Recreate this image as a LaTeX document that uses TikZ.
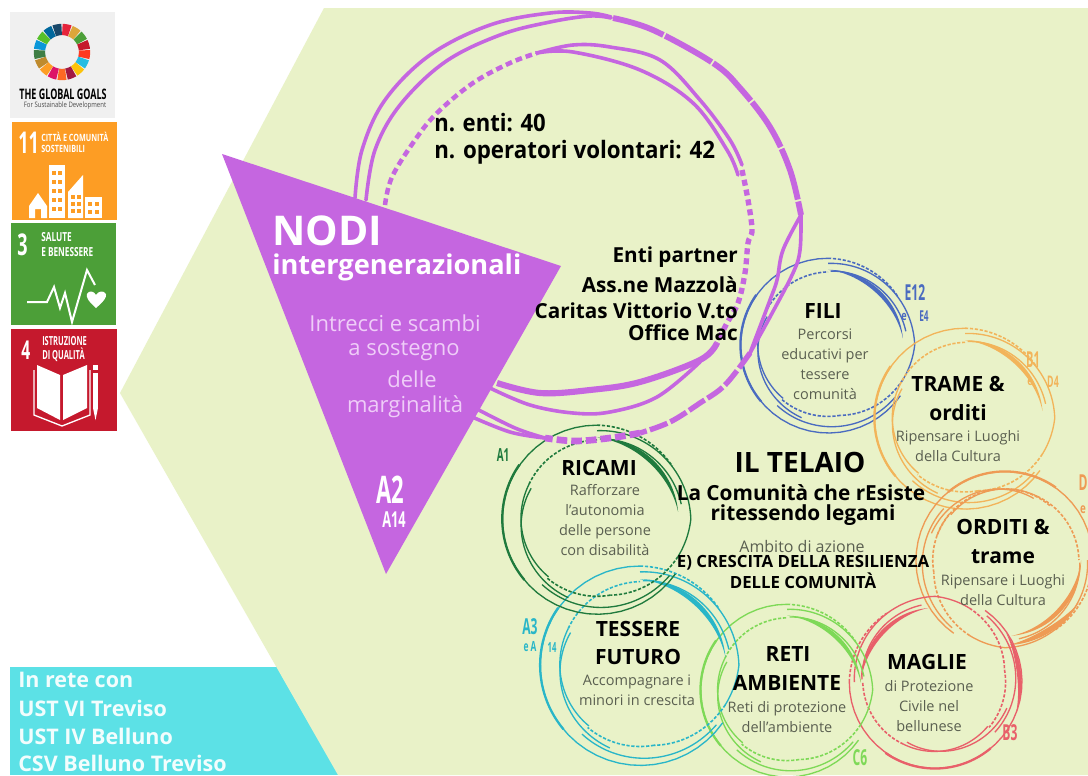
\documentclass[tikz,border=0pt]{standalone}
\usepackage{fontspec}
\usepackage{graphicx}
\setmainfont{Open Sans}
\newcommand\fpx[2]{\fontsize{\fpeval{#1*0.75}}{\fpeval{#2*0.75}}\selectfont}
\newcommand\cond[2][.6]{\scalebox{#1}[1]{#2}}
\definecolor{hexg}{HTML}{E9F2C8}
\definecolor{purp}{HTML}{C566E0}
\definecolor{pinkt}{HTML}{EFCDF8}
\definecolor{cyanb}{HTML}{5CE1E6}
\definecolor{desc}{HTML}{5A5F50}
\definecolor{cblue}{HTML}{4A6BC0}
\definecolor{cyel}{HTML}{F2B45A}
\definecolor{corg}{HTML}{EE9B55}
\definecolor{cred}{HTML}{E8606A}
\definecolor{clgr}{HTML}{7ED957}
\definecolor{ctea}{HTML}{29B6C8}
\definecolor{cdgr}{HTML}{1F7A3D}
\definecolor{sdgo}{HTML}{FD9D24}
\definecolor{sdgg}{HTML}{4C9F38}
\definecolor{sdgr}{HTML}{C5192D}
\tikzset{
  title/.style={font=\fpx{21}{28}\bfseries,text=black,align=center,inner sep=0pt},
  dtext/.style={font=\fpx{14.5}{20},text=desc,align=center,inner sep=0pt},
  pdesc/.style={font=\fpx{22}{26},text=pinkt,inner sep=0pt},
  tag/.style={font=\fpx{22}{22}\bfseries,inner sep=0pt},
  tile/.style={font=\fpx{12.5}{13}\bfseries,text=white,inner sep=0pt,anchor=west,align=left},
  rthin/.style={draw=rc,line width=1pt},
  rthick/.style={draw=rc,line width=1.7pt},
  rdash/.style={draw=rc,line width=1.2pt,dash pattern=on 2.4pt off 1.3pt},
  pl/.style={draw=purp,line width=2.7pt,line cap=round},
  pth/.style={draw=purp,line width=4.6pt},
  pdot/.style={draw=purp,line width=3.4pt,dash pattern=on 5pt off 3pt},
}
% ring helpers (angles clockwise on screen, radii relative)
\def\rseg#1#2#3#4{plot[domain=#1:#2,samples=36] ({\CX+\RR*(#3+(#4-(#3))*(\x-(#1))/(#2-(#1)))*cos(\x+\ROT)},{\CY+\RR*(#3+(#4-(#3))*(\x-(#1))/(#2-(#1)))*sin(\x+\ROT)})}
\newcommand\cres[4]{\fill[rc] plot[domain=#1:#2,samples=30] ({\CX+\RR*(#3)*cos(\x+\ROT)},{\CY+\RR*(#3)*sin(\x+\ROT)}) -- plot[domain=#2:#1,samples=30] ({\CX+\RR*(#3-(#4)*sin(180*(\x-(#1))/(#2-(#1))))*cos(\x+\ROT)},{\CY+\RR*(#3-(#4)*sin(180*(\x-(#1))/(#2-(#1))))*sin(\x+\ROT)}) -- cycle;}
\newcommand\setring[5]{\def\CX{#1}\def\CY{#2}\def\RR{#3}\def\ROT{#4}\colorlet{rc}{#5}}
\newcommand\skring[5]{\setring{#1}{#2}{#3}{#4}{#5}
  \draw[rthin] \rseg{35}{270}{1.04}{1.02};
  \draw[rthick] \rseg{140}{215}{1.03}{1.03};
  \draw[rdash] \rseg{270}{325}{1.02}{1.0};
  \draw[rthin] \rseg{270}{360}{.96}{1.02};
  \draw[rthin] \rseg{360}{385}{1.02}{.97};
  \draw[rdash] \rseg{385}{440}{.97}{.84};
  \draw[rdash] \rseg{440}{490}{.84}{.84};
  \draw[rthin] \rseg{130}{207}{.82}{.83};
  \draw[rthin] \rseg{110}{205}{.91}{.79};
  \draw[rthin] \rseg{38}{130}{1.0}{.93};
  \draw[rdash] \rseg{207}{270}{.83}{.86};
  \draw[rthin] \rseg{272}{350}{.87}{.93};
  \cres{270}{355}{.885}{.05}
}
\begin{document}
\begin{tikzpicture}[x=.75pt,y=-.75pt]
\useasboundingbox (0,0) rectangle (1088,775);
\fill[white] (0,0) rectangle (1088,775);
% bottom-left band
\fill[cyanb] (10,667) rectangle (345,775);
% background hexagon
\fill[hexg] (120,393) -- (324,8) -- (1088,8) -- (1088,775) -- (338,775) -- cycle;
% ---------- SDG column
\fill[black!6] (10,12) rectangle (115,118);
\foreach \c [count=\i from 0] in {E5243B,DDA63A,4C9F38,C5192D,FF3A21,26BDE2,FCC30B,A21942,FD6925,DD1367,FD9D24,BF8B2E,3F7E44,0A97D9,56C02B,00689D,19486A}{
  \definecolor{tmpc}{HTML}{\c}
  \draw[tmpc,line width=8.5pt] plot[domain=-90+\i*21.18+0.9:-90+\i*21.18+20.2,samples=6] ({62+22.5*cos(\x)},{52+22.5*sin(\x)});
}
\node[inner sep=0pt,font=\fpx{14.5}{14}\bfseries] (gg) at (63,94) {\cond[.62]{THE GLOBAL GOALS}};
\node[inner sep=0pt,font=\fpx{7.5}{8},text=black!70] (gs) at (65,106) {\cond[.8]{For Sustainable Development}};
\fill[sdgo] (12,122) rectangle (117,220);
\fill[sdgg] (11,223) rectangle (116,325);
\fill[sdgr] (11,329) rectangle (117,431);
\node[tile,font=\fpx{30}{30}\bfseries] (n11) at (18,143) {\cond{11}};
\node[tile,font=\fpx{10}{12}\bfseries] (n11a) at (41,137) {\cond[.72]{CITTÀ E COMUNITÀ}};
\node[tile,font=\fpx{10}{12}\bfseries] (n11b) at (41,149) {\cond[.72]{SOSTENIBILI}};
\node[tile,font=\fpx{30}{30}\bfseries] (n3) at (17,245) {\cond{3}};
\node[tile] (n3a) at (41,237) {\cond[.66]{SALUTE}};
\node[tile] (n3b) at (41,252) {\cond[.66]{E BENESSERE}};
\node[tile,font=\fpx{26}{26}\bfseries] (n4) at (21,350) {\cond{4}};
\node[tile] (n4a) at (42,341) {\cond{ISTRUZIONE}};
\node[tile] (n4b) at (42,355) {\cond{DI QUALITÀ}};
% city icon
\fill[white] (29,218) -- (29,206) -- (38,193) -- (47,206) -- (47,218) -- (41,218) -- (41,209) -- (35,209) -- (35,218) -- cycle;
\fill[white] (49,165) rectangle (65,218);
\fill[white] (68,218) -- (68,192) -- (83,175) -- (83,218) -- cycle;
\fill[white] (85,197) rectangle (102,218);
\foreach \yy in {171,180,189,198,207}{\fill[sdgo] (52,\yy) rectangle (56,\yy+4);\fill[sdgo] (58,\yy) rectangle (62,\yy+4);}
\foreach \yy in {195,202,209}{\fill[sdgo] (71,\yy) rectangle (75,\yy+4);\fill[sdgo] (77,\yy) rectangle (81,\yy+4);}
\foreach \yy in {202,210}{\fill[sdgo] (88,\yy) rectangle (92,\yy+4);\fill[sdgo] (95,\yy) rectangle (99,\yy+4);}
% pulse icon
\draw[white,line width=1.5pt] (27,302) -- (47,302) -- (54,287) -- (60,308) -- (65,293) -- (72,322) -- (87,270) -- (95,285);
\fill[white] (96,308) .. controls (88,301) and (86,297) .. (87,294) .. controls (89,290) and (94,291) .. (96,295) .. controls (98,291) and (104,290) .. (106,294) .. controls (107,297) and (104,301) .. (96,308) -- cycle;
% book icon
\fill[white] (37,365) -- (60,375) -- (60,420) -- (37,408) -- cycle;
\fill[white] (63,375) -- (87,365) -- (87,408) -- (63,420) -- cycle;
\draw[white,line width=1pt] (34,370) -- (34,415) -- (62,426) -- (90,415) -- (90,370);
\fill[white] (93,373) rectangle (98,408);
\fill[white] (93,408) -- (98,408) -- (95.5,420) -- cycle;
\fill[white] (93,365) rectangle (98,370);
% ---------- sketched rings
\skring{828}{345}{85}{0}{cblue}
\skring{965}{418}{88}{0}{cyel}
\skring{1005}{560}{86}{90}{corg}
\cres{300}{358}{.99}{.06}
\draw[rdash] \rseg{110}{220}{.84}{.82};
\skring{935}{682}{84}{-90}{cred}
\cres{55}{110}{1.03}{.05}
\skring{787}{690}{84}{0}{clgr}
\skring{640}{665}{97}{0}{ctea}
\skring{597}{519}{92}{0}{cdgr}
% ---------- large purple ring
\draw[pl] plot[smooth,tension=.6] coordinates {(355,198) (362,150) (385,100) (430,55) (490,25) (550,13) (590,13) (611,17)};
\draw[pl] plot[smooth,tension=.6] coordinates {(366,200) (375,150) (400,105) (445,62) (500,35) (550,22) (590,16) (611,18)};
\draw[draw=purp,line width=4.4pt,dash pattern=on 40pt off 1.5pt] plot[smooth,tension=.6] coordinates {(613,18) (653,30) (713,63) (740,88) (770,127) (790,170) (801,215)};
\draw[pl] plot[smooth,tension=.6] coordinates {(801,215) (800,250) (793,273) (770,317) (750,353)};
\draw[pl] plot[smooth,tension=.6] coordinates {(801,215) (783,250) (777,280) (770,300) (750,353)};
\draw[draw=purp,line width=4pt,dash pattern=on 14pt off 2.5pt] plot[smooth,tension=.6] coordinates {(750,353) (725,385) (700,403) (670,422) (640,433)};
\draw[draw=purp,line width=5pt,dash pattern=on 8pt off 3pt] plot[smooth,tension=.6] coordinates {(640,433) (610,438) (575,441) (545,438)};
\draw[pl] plot[smooth,tension=.6] coordinates {(545,438) (515,428) (475,408)};
\draw[pl] plot[smooth,tension=.6] coordinates {(545,438) (510,432) (470,416)};
\draw[pdot] plot[smooth,tension=.6] coordinates {(385,205) (392,177) (415,140) (437,113) (473,83) (510,63) (537,53)};
\draw[pl] plot[smooth,tension=.6] coordinates {(537,53) (573,45) (610,47) (660,60) (700,100) (730,140) (742,165)};
\draw[pl] plot[smooth,tension=.6] coordinates {(537,53) (573,52) (640,70) (693,103) (727,150) (738,175)};
\draw[draw=purp,line width=4pt,dash pattern=on 4.5pt off 3pt] plot[smooth,tension=.6] coordinates {(742,170) (748,200) (752,230) (748,243) (745,273) (738,303) (727,323) (717,343)};
\draw[pth] plot[smooth,tension=.6] coordinates {(717,343) (700,360) (640,382) (590,390) (540,393) (497,383)};
\draw[pl] plot[smooth,tension=.6] coordinates {(700,362) (657,397) (610,412) (573,413) (530,405) (490,388)};
% ---------- triangle
\fill[purp] (222,154) -- (561,266) -- (386,574) -- cycle;
% ---------- triangle text
\node[inner sep=0pt,anchor=west,font=\fpx{41}{41}\bfseries,text=white] (nodi) at (272,231) {NODI};
\node[inner sep=0pt,anchor=west,font=\fpx{27.2}{28}\bfseries,text=white] (inter) at (272,267) {intergenerazionali};
\node[pdesc] (p1) at (395,323) {Intrecci e scambi};
\node[pdesc] (p2) at (404,351) {a sostegno};
\node[pdesc] (p3) at (412,379) {delle};
\node[pdesc] (p4) at (405,407) {marginalità};
\node[tag,font=\fpx{38}{38}\bfseries,text=white] (a2) at (390,490) {\cond[.58]{A2}};
\node[tag,font=\fpx{22}{22}\bfseries,text=white] (a14) at (394,520) {\cond[.58]{A14}};
% ---------- top texts
\node[inner sep=0pt,anchor=west,font=\fpx{24}{24}\bfseries] (ne) at (434,123) {\cond[.92]{n. enti: 40}};
\node[inner sep=0pt,anchor=west,font=\fpx{24}{24}\bfseries] (no) at (434,152) {\cond[.93]{n. operatori volontari: 42}};
\node[inner sep=0pt,anchor=east,font=\fpx{20.7}{22}\bfseries] (ep) at (738,257) {Enti partner};
\node[inner sep=0pt,anchor=east,font=\fpx{20.7}{22}\bfseries] (am) at (738,285) {Ass.ne Mazzolà};
\node[inner sep=0pt,anchor=east,font=\fpx{20.7}{22}\bfseries] (cv) at (738,311) {Caritas Vittorio V.to};
\node[inner sep=0pt,anchor=east,font=\fpx{20.7}{22}\bfseries] (om) at (738,333) {Office Mac};
% ---------- centre text
\node[inner sep=0pt,font=\fpx{28}{28}\bfseries] (tel) at (800,462) {IL TELAIO};
\node[inner sep=0pt,font=\fpx{20.8}{22}\bfseries] (com) at (801,493) {La Comunità che rEsiste};
\node[inner sep=0pt,font=\fpx{20.8}{22}\bfseries] (rit) at (803,515) {ritessendo legami};
\node[inner sep=0pt,font=\fpx{16}{18},text=desc] (amb) at (802,546) {Ambito di azione};
\node[inner sep=0pt,font=\fpx{16.8}{18}\bfseries] (cre) at (803,563) {E) CRESCITA DELLA RESILIENZA};
\node[inner sep=0pt,font=\fpx{16.8}{18}\bfseries] (del) at (803,581) {DELLE COMUNITÀ};
% ---------- ring texts
\node[title] (fili) at (823,311) {FILI};
\node[dtext] (filid) at (825,364) {Percorsi\\educativi per\\tessere\\comunità};
\node[title] (tr1) at (958,384) {TRAME \&};
\node[title] (tr2) at (958,413) {orditi};
\node[dtext] (trd) at (958,446) {Ripensare i Luoghi\\della Cultura};
\node[title] (or1) at (1003,527) {ORDITI \&};
\node[title] (or2) at (1003,557) {trame};
\node[dtext] (ord) at (1003,590) {Ripensare i Luoghi\\della Cultura};
\node[title] (mag) at (927,662) {MAGLIE};
\node[dtext] (magd) at (929,706) {di Protezione\\Civile nel\\bellunese};
\node[title] (re1) at (788,654) {RETI};
\node[title] (re2) at (787,683) {AMBIENTE};
\node[dtext] (red) at (787,717) {Reti di protezione\\dell'ambiente};
\node[title] (te1) at (638,629) {TESSERE};
\node[title] (te2) at (638,657) {FUTURO};
\node[dtext] (ted) at (637,690) {Accompagnare i\\minori in crescita};
\node[title] (ric) at (599,468) {RICAMI};
\node[dtext] (ricd) at (605,520) {Rafforzare\\l’autonomia\\delle persone\\con disabilità};
% ---------- small tags
\node[tag,text=cblue] (e12) at (915,293) {\cond[.55]{E12}};
\node[tag,font=\fpx{13}{13}\bfseries,text=cblue] (ee) at (904,317) {\cond[.7]{e}};
\node[tag,font=\fpx{15}{15}\bfseries,text=cblue] (e4) at (924,316) {\cond[.55]{E4}};
\node[tag,text=cyel] (b1) at (1033,360) {\cond[.5]{B1}};
\node[tag,font=\fpx{13}{13}\bfseries,text=cyel] (be) at (1030,382) {\cond[.7]{e}};
\node[tag,font=\fpx{16}{16}\bfseries,text=cyel] (d4) at (1053,382) {\cond[.55]{D4}};
\node[tag,text=corg] (dd) at (1083,483) {\cond[.55]{D}};
\node[tag,font=\fpx{14}{14}\bfseries,text=corg] (de) at (1083,510) {\cond[.7]{e}};
\node[tag,text=cred] (b3) at (1010,733) {\cond[.55]{B3}};
\node[tag,text=clgr] (c6) at (860,758) {\cond[.55]{C6}};
\node[tag,font=\fpx{18}{18}\bfseries,text=cdgr] (a1) at (503,455) {\cond[.55]{A1}};
\node[tag,text=ctea] (a3) at (530,627) {\cond[.55]{A3}};
\node[tag,font=\fpx{14}{14}\bfseries,text=ctea] (ea) at (530,647) {\cond[.6]{e A}};
\node[tag,font=\fpx{14}{14}\bfseries,text=ctea] (a14b) at (552,647) {\cond[.55]{14}};
% ---------- network text
\node[inner sep=0pt,anchor=west,font=\fpx{21.5}{27}\bfseries,text=white!92!cyanb] (r1) at (18,680) {In rete con};
\node[inner sep=0pt,anchor=west,font=\fpx{21.5}{27}\bfseries,text=white!92!cyanb] (r2) at (18,708) {UST VI Treviso};
\node[inner sep=0pt,anchor=west,font=\fpx{21.5}{27}\bfseries,text=white!92!cyanb] (r3) at (18,736) {UST IV Belluno};
\node[inner sep=0pt,anchor=west,font=\fpx{21.5}{27}\bfseries,text=white!92!cyanb] (r4) at (18,763) {CSV Belluno Treviso};
\end{tikzpicture}
\end{document}
